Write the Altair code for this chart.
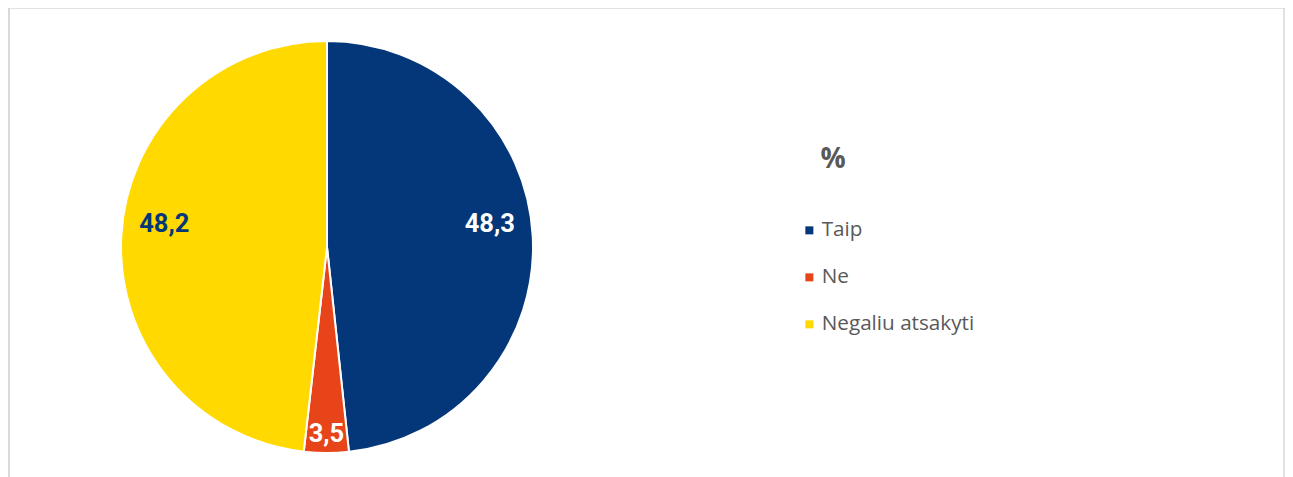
import altair as alt
import pandas as pd

# ---- data ----
categories = ["Taip", "Ne", "Negaliu atsakyti"]
values = [48.3, 3.5, 48.2]
labels = ["48,3", "3,5", "48,2"]
order = [1, 2, 3]
legend_title = "%"

df = pd.DataFrame({"cat": categories, "value": values, "label": labels, "order": order})

# ---- style ----
BLUE = "#03377A"
RED = "#E8441A"
YELLOW = "#FFD900"
GRAY = "#595959"
W, H = 1277, 469
CX, CY, R = 319, 239, 206

color_scale = alt.Scale(domain=categories, range=[BLUE, RED, YELLOW])
theta_scale = alt.Scale(domain=[0, 100])

base = alt.Chart(df)

pie = base.mark_arc(radius=R, stroke="white", strokeWidth=2).encode(
    theta=alt.Theta("value:Q", stack=True, scale=theta_scale),
    color=alt.Color(
        "cat:N", scale=color_scale, sort=categories,
        legend=alt.Legend(
            orient="none", legendX=791, legendY=212, title=None,
            symbolType="square", symbolSize=64, symbolStrokeWidth=0,
            labelFontSize=20.7, labelFont="Open Sans", labelColor=GRAY,
            rowPadding=25, labelOffset=2, padding=0,
        ),
    ),
    order=alt.Order("order:Q"),
    x=alt.value(CX),
    y=alt.value(CY),
)

txt = base.transform_window(
    cum="sum(value)", sort=[alt.SortField("order")], frame=[None, 0]
).transform_calculate(mid="datum.cum - datum.value / 2")

label_fill = alt.condition("datum.cat == 'Negaliu atsakyti'", alt.value(BLUE), alt.value("white"))

big_labels = txt.transform_filter("datum.value >= 10").mark_text(
    radius=163, dy=-14, font="Roboto", fontWeight="bold", fontSize=25.5
).encode(
    theta=alt.Theta("mid:Q", scale=theta_scale),
    text="label:N",
    fill=label_fill,
    x=alt.value(CX),
    y=alt.value(CY),
)

small_labels = txt.transform_filter("datum.value < 10").mark_text(
    radius=187, font="Roboto", fontWeight="bold", fontSize=25.5
).encode(
    theta=alt.Theta("mid:Q", scale=theta_scale),
    text="label:N",
    fill=label_fill,
    x=alt.value(CX),
    y=alt.value(CY),
)

one = alt.Chart(pd.DataFrame({"t": [legend_title]}))

title_text = one.mark_text(
    font="Open Sans", fontWeight="bold", fontSize=28, color=GRAY,
    align="center", baseline="middle"
).encode(text="t:N", x=alt.value(825), y=alt.value(152))

border_col = "#D9D9D9"
top_rule = one.mark_rule(color=border_col, strokeWidth=1.5).encode(
    x=alt.value(0), x2=alt.value(W), y=alt.value(0))
left_rule = one.mark_rule(color=border_col, strokeWidth=2).encode(
    x=alt.value(1), y=alt.value(0), y2=alt.value(H))
right_rule = one.mark_rule(color=border_col, strokeWidth=1.5).encode(
    x=alt.value(W - 1), y=alt.value(0), y2=alt.value(H))

chart = alt.layer(
    top_rule, left_rule, right_rule, pie, big_labels, small_labels, title_text
).properties(
    width=W, height=H, autosize=alt.AutoSizeParams(type="none"), padding=0,
    background="white",
).configure_view(stroke=None)

chart.save("out.html", embed_options={"renderer": "svg", "actions": False})
